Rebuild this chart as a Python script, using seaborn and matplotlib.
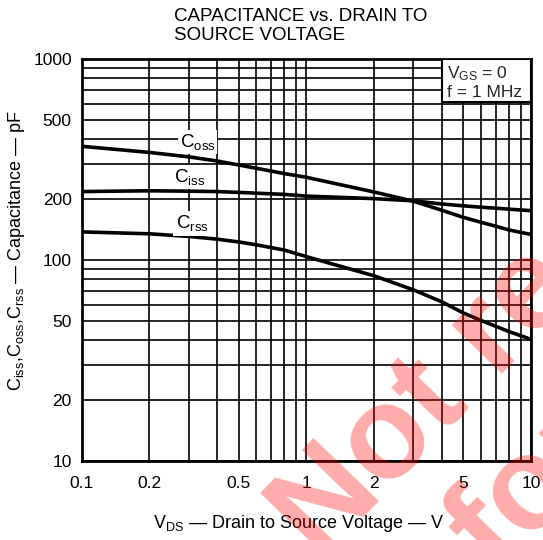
import matplotlib
matplotlib.use("Agg")
import matplotlib.pyplot as plt
import seaborn as sns
import pandas as pd
from matplotlib.ticker import LogLocator, FixedLocator, FixedFormatter, NullFormatter
from matplotlib.patches import Rectangle

# ---- data ----
vds = [0.1, 0.2, 0.3, 0.4, 0.5, 0.6, 0.8, 1, 2, 3, 4, 5, 6, 7, 8, 10]
coss = [368, 343, 326, 311, 297, 286, 269, 258, 218, 196, 177, 163, 154, 147, 141, 134]
ciss = [219, 221, 220, 219, 217, 215, 212, 208, 202, 197, 190, 186, 183, 181, 179, 176]
crss = [138, 135, 131, 127, 123, 119, 112, 104, 83.5, 71, 62, 54.5, 50, 46.7, 44, 40.3]

x_ticks = [0.1, 0.2, 0.5, 1, 2, 5, 10]
x_labels = ["0.1", "0.2", "0.5", "1", "2", "5", "10"]
y_ticks = [10, 20, 50, 100, 200, 500, 1000]
y_labels = ["10", "20", "50", "100", "200", "500", "1000"]

series_names = ["Coss", "Ciss", "Crss"]

df = pd.concat([
    pd.DataFrame({"VDS": vds, "C": coss, "series": "Coss"}),
    pd.DataFrame({"VDS": vds, "C": ciss, "series": "Ciss"}),
    pd.DataFrame({"VDS": vds, "C": crss, "series": "Crss"}),
])

sns.set_theme(style="white")
plt.rcParams["font.family"] = ["Liberation Sans", "DejaVu Sans"]
plt.rcParams["mathtext.fontset"] = "custom"
plt.rcParams["mathtext.rm"] = "Liberation Sans"
plt.rcParams["mathtext.it"] = "Liberation Sans"
plt.rcParams["mathtext.default"] = "regular"

fig = plt.figure(figsize=(5.43, 5.40), dpi=100)
fig.patch.set_facecolor("white")
ax = fig.add_axes([81.5 / 543, 1 - 461 / 540, (531 - 81.5) / 543, (461 - 59) / 540])
ax.set_xscale("log")
ax.set_yscale("log")

sns.lineplot(data=df, x="VDS", y="C", hue="series", hue_order=series_names,
             palette={"Coss": "black", "Ciss": "black", "Crss": "black"},
             linewidth=2.6, legend=False, ax=ax, zorder=5)

ax.set_xlim(0.1, 10)
ax.set_ylim(10, 1000)

ax.xaxis.set_major_locator(FixedLocator(x_ticks))
ax.xaxis.set_major_formatter(FixedFormatter(x_labels))
ax.yaxis.set_major_locator(FixedLocator(y_ticks))
ax.yaxis.set_major_formatter(FixedFormatter(y_labels))
ax.xaxis.set_minor_locator(LogLocator(base=10, subs=range(1, 10), numticks=50))
ax.yaxis.set_minor_locator(LogLocator(base=10, subs=range(1, 10), numticks=50))
ax.xaxis.set_minor_formatter(NullFormatter())
ax.yaxis.set_minor_formatter(NullFormatter())

ax.grid(which="both", color="black", linewidth=1.2)
ax.set_axisbelow(True)
ax.tick_params(which="both", length=0)
ax.tick_params(axis="x", pad=10.5, labelsize=12.5, colors="black")
ax.tick_params(axis="y", pad=7, labelsize=12.5, colors="black")
for s in ax.spines.values():
    s.set_visible(True)
    s.set_color("black")
    s.set_linewidth(2)
ax.set_xlabel("")
ax.set_ylabel("")

# curve labels
lab_kw = dict(ha="center", va="center", fontsize=13.5, color="black", zorder=6,
              bbox=dict(facecolor="white", edgecolor="none", pad=1.5))
ax.text(0.328, 386, "C$_{oss}$", **lab_kw)
ax.text(0.303, 260, "C$_{iss}$", **lab_kw)
ax.text(0.31, 152, "C$_{rss}$", **lab_kw)

# condition box
ax.add_patch(Rectangle((0.802, 0.894), 0.198, 0.106, transform=ax.transAxes,
                       facecolor="white", edgecolor="black", linewidth=1.5, zorder=4))
ax.text(0.813, 0.963, "V$_{GS}$ = 0", transform=ax.transAxes, ha="left", va="center",
        fontsize=12.5, zorder=7)
ax.text(0.813, 0.916, "f = 1 MHz", transform=ax.transAxes, ha="left", va="center",
        fontsize=12.5, zorder=7)

# titles and axis labels
fig.text(174 / 543, 1 - 26 / 540, "CAPACITANCE vs. DRAIN TO\nSOURCE VOLTAGE",
         ha="left", va="center", fontsize=13.5, linespacing=1.12, color="black")
fig.text(299 / 543, 1 - 523 / 540, "V$_{DS}$ — Drain to Source Voltage — V",
         ha="center", va="center", fontsize=13, color="black")
fig.text(17 / 543, 1 - 250 / 540, "C$_{iss}$,C$_{oss}$,C$_{rss}$ — Capacitance — pF",
         ha="center", va="center", rotation=90, fontsize=13, color="black")

# watermark
wm_kw = dict(rotation=46, rotation_mode="anchor", ha="left", va="baseline",
             fontsize=94, fontweight="bold", color="red", alpha=0.33, zorder=20)
fig.text(320 / 543, 1 - 562 / 540, "Not recommended", **wm_kw)
fig.text(498 / 543, 1 - 577 / 540, "for new designs", **wm_kw)

fig.savefig("out.png", dpi=100, facecolor="white")
